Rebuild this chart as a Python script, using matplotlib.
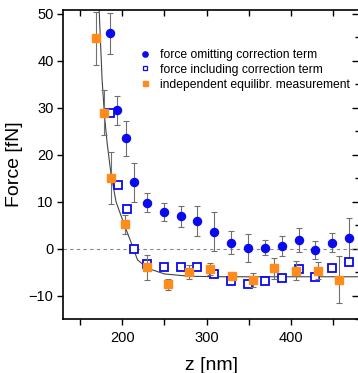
import numpy as np
import matplotlib
matplotlib.use("Agg")
import matplotlib.pyplot as plt
from matplotlib.ticker import MultipleLocator
from matplotlib.lines import Line2D

plt.rcParams['font.family'] = ['Liberation Sans', 'DejaVu Sans']

# force omitting correction term (filled circles)
z_omit = [185, 194, 204.4, 214.2, 229.3, 249, 269, 289, 309, 329, 349, 369, 389, 409, 429, 449, 469]
f_omit = [45.9, 29.5, 23.5, 14.1, 9.8, 7.8, 6.9, 5.9, 3.6, 1.3, 0.2, 0.2, 0.5, 1.8, -0.3, 1.3, 2.2]
e_omit = [4.4, 3.1, 3.7, 4.1, 2.1, 2.0, 2.2, 3.2, 4.2, 2.4, 3.0, 1.6, 2.1, 2.5, 2.0, 2.1, 4.4]

# force including correction term (open squares)
z_incl = [185, 195.3, 205.1, 214.2, 229.3, 249, 269, 289, 309, 329, 349, 369, 389, 409, 429, 449, 469]
f_incl = [28.8, 13.5, 8.4, -0.1, -3.3, -4.0, -3.9, -3.9, -5.4, -6.9, -7.6, -6.9, -6.2, -4.4, -6.1, -4.1, -2.9]

# independent equilibrium measurement (orange squares)
z_eq = [168.8, 177.8, 186.6, 203.2, 229.3, 254.6, 279.5, 304.4, 329.7, 355.4, 380.3, 406.0, 431.7, 457.4]
f_eq = [44.8, 29.0, 15.0, 5.2, -4.0, -7.6, -4.9, -4.4, -5.8, -6.7, -4.2, -4.7, -4.7, -6.6]
e_eq = [5.7, 4.8, 5.5, 2.0, 2.7, 1.2, 1.5, 1.3, 0.5, 1.5, 2.2, 2.0, 1.8, 5.0]

# fit line
z_fit = [172.5, 176, 179, 182, 186.5, 192.5, 202.5, 210, 218, 230, 250, 280, 320, 400, 481]
f_fit = [51, 36, 28, 22.5, 16, 10, 5, 1.5, -2.4, -4.2, -5.4, -5.9, -6.0, -6.0, -6.0]

labels = ['force omitting correction term',
          'force including correction term',
          'independent equilibr. measurement']

fig = plt.figure(figsize=(3.58, 3.73), dpi=100)
ax = fig.add_axes([0.1768, 0.1448, 0.8268, 0.8284])

blue = '#0a0aee'
orange = '#ff8c1a'
ecol = '#707070'

ax.axhline(0, color='#888888', lw=0.8, ls=(0, (3, 3)), zorder=1)
ax.plot(z_fit, f_fit, color='#444444', lw=0.8, zorder=2)

ax.errorbar(z_omit, f_omit, yerr=e_omit, fmt='o', color=blue, ms=5.8,
            ecolor=ecol, elinewidth=0.8, capsize=2, capthick=0.8, zorder=3)
ax.plot(z_incl, f_incl, 's', mfc='white', mec=blue, mew=1.3, ms=5.6, zorder=4)
ax.errorbar(z_eq, f_eq, yerr=e_eq, fmt='s', color=orange, ms=5.2,
            ecolor=ecol, elinewidth=0.8, capsize=2, capthick=0.8, zorder=5)

ax.set_xlim(130, 481)
ax.set_ylim(-15, 50.85)
ax.xaxis.set_major_locator(MultipleLocator(100))
ax.xaxis.set_minor_locator(MultipleLocator(50))
ax.yaxis.set_major_locator(MultipleLocator(10))
ax.yaxis.set_minor_locator(MultipleLocator(5))

ax.tick_params(axis='both', which='both', labelsize=10.5, width=1.0, color='black')
ax.tick_params(axis='x', which='both', direction='out', length=4, pad=5, top=False)
ax.tick_params(axis='y', which='major', direction='out', length=4, pad=3, right=False)
ax.tick_params(axis='y', which='minor', left=False)

# inward ticks on top and right
sec_x = ax.secondary_xaxis('top')
sec_x.xaxis.set_major_locator(MultipleLocator(50))
sec_x.tick_params(direction='in', length=4, width=1.0, labeltop=False)
sec_x.spines['top'].set_visible(False)
sec_y = ax.secondary_yaxis('right')
sec_y.yaxis.set_major_locator(MultipleLocator(10))
sec_y.yaxis.set_minor_locator(MultipleLocator(5))
sec_y.tick_params(which='major', direction='in', length=5, width=1.0, labelright=False)
sec_y.tick_params(which='minor', direction='in', length=3, width=1.0)
sec_y.spines['right'].set_visible(False)

for s in ax.spines.values():
    s.set_linewidth(1.2)

ax.set_xlabel('z [nm]', fontsize=14, labelpad=8)
ax.set_ylabel('Force [fN]', fontsize=14, labelpad=4)

handles = [
    Line2D([], [], ls='none', marker='o', color=blue, ms=3.8),
    Line2D([], [], ls='none', marker='s', mfc='white', mec=blue, mew=0.9, ms=3.4),
    Line2D([], [], ls='none', marker='s', color=orange, ms=3.6),
]
ax.legend(handles, labels, loc='upper left', bbox_to_anchor=(0.239, 0.89), frameon=False,
          fontsize=8.7, handlelength=1.0, handletextpad=0.74,
          labelspacing=0.24, borderaxespad=0)

fig.savefig('out.png', dpi=100)
